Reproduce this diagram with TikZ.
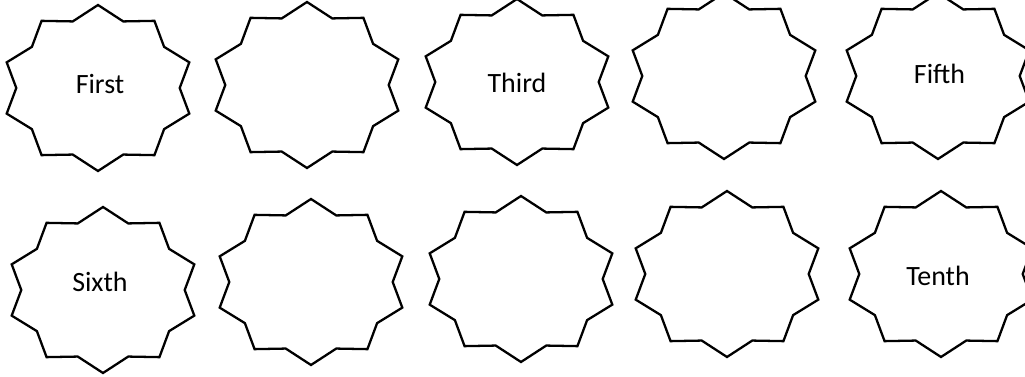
\documentclass[tikz,border=0pt]{standalone}
\usepackage{fontspec}
\setmainfont{Carlito}
\usepackage{tikz}
\definecolor{ink}{HTML}{000000}
\tikzset{burstline/.style={ink,line width=1.3pt,line join=miter},
  lbl/.style={font=\fontsize{15.9}{19}\selectfont,text=ink,inner sep=0pt},
  pics/burst/.style={code={\draw[burstline] (90:96 and 83)
     \foreach \k in {0,...,8}{ -- ({108+36*\k}:81.7 and 70) -- ({126+36*\k}:96 and 83)} -- (72:81.7 and 70) -- cycle;}}}

\begin{document}
\begin{tikzpicture}[x=0.02cm,y=-0.02cm]
  \useasboundingbox (0,0) rectangle (1025,377);
  % two rows of five bursts
  \foreach \bx/\by/\bn in {98/88/a,307/85/b,517/82/c,724/76/d,938/76/e,103/290/f,311/282/g,521/279/h,727/274/i,941/274/j}
     \pic (burst-\bn) at (\bx,\by) {burst};
  \node[lbl] (first) at (100,84) {First};
  \node[lbl] (third) at (517,83) {Third};
  \node[lbl] (fifth) at (939.5,74) {Fifth};
  \node[lbl] (sixth) at (100,282) {Sixth};
  \node[lbl] (tenth) at (938,275.5) {Tenth};
\end{tikzpicture}
\end{document}
